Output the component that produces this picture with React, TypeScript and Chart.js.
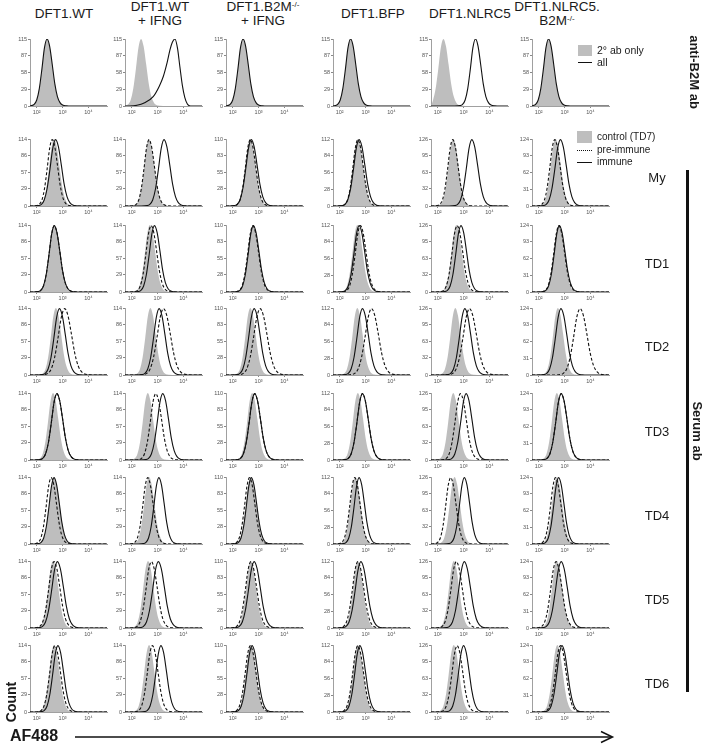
import React, { useEffect, useRef } from "react";
import { Chart, registerables } from "chart.js";

Chart.register(...registerables);

// ---------------- DATA ----------------
const SERUM_ROWS = ["My", "TD1", "TD2", "TD3", "TD4", "TD5", "TD6"];

const X_MIN = 55;
const X_MAX = 52000;
const X_TICKS = [100, 1000, 10000];
const X_TICK_LABELS = ["10²", "10³", "10⁴"];

const Y_TICKS_B2M = [0, 29, 58, 87, 115];
const Y_TICKS_SERUM = [
  [0, 29, 57, 86, 114],
  [0, 29, 57, 86, 114],
  [0, 28, 55, 83, 110],
  [0, 28, 56, 84, 112],
  [0, 32, 63, 95, 126],
  [0, 31, 62, 93, 124],
];

// histogram template: log10 offset from mode, fraction of mode height
const SHAPE_OFFSET = [-0.8, -0.6, -0.5, -0.4, -0.3, -0.2, -0.1, 0, 0.1, 0.2, 0.3, 0.4, 0.5, 0.6, 0.75, 0.95];
const SHAPE_HEIGHT = [0, 0.006, 0.025, 0.09, 0.26, 0.55, 0.87, 1, 0.89, 0.62, 0.33, 0.14, 0.05, 0.015, 0.003, 0];

// broad "all" histogram of DFT1.WT + IFNG (log10 value, fraction of max)
const BROAD_LOG = [1.9, 2.2, 2.5, 2.83, 3.07, 3.22, 3.37, 3.48, 3.57, 3.67, 3.77, 3.86, 3.96, 4.05, 4.15, 4.27];
const BROAD_HEIGHT = [0, 0.01, 0.05, 0.14, 0.3, 0.44, 0.65, 0.84, 0.95, 1, 0.86, 0.59, 0.3, 0.13, 0.03, 0];

// anti-B2M row: modes (log10 AF488)
const B2M_CONTROL_PEAK = [2.4, 2.36, 2.4, 2.42, 2.22, 2.38];
const B2M_ALL_PEAK = [2.4, 3.68, 2.4, 2.42, 3.46, 2.38];
const B2M_ALL_BROAD = [false, true, false, false, false, false];

// serum rows: modes (log10 AF488) [row][column]
const CONTROL_PEAK = [
  [2.67, 2.67, 2.68, 2.7, 2.6, 2.65],
  [2.68, 2.7, 2.78, 2.68, 2.72, 2.78],
  [2.74, 2.72, 2.68, 2.68, 2.68, 2.74],
  [2.63, 2.62, 2.75, 2.7, 2.6, 2.7],
  [2.67, 2.67, 2.7, 2.6, 2.65, 2.7],
  [2.63, 2.63, 2.7, 2.7, 2.62, 2.7],
  [2.67, 2.67, 2.7, 2.7, 2.62, 2.72],
];
const PRE_PEAK = [
  [2.6, 2.67, 2.68, 2.7, 2.58, 2.62],
  [2.68, 2.75, 2.78, 2.8, 2.75, 2.78],
  [3.08, 3.23, 3.06, 3.23, 3.23, 3.6],
  [2.78, 2.93, 2.85, 2.88, 2.88, 2.87],
  [2.56, 2.62, 2.65, 2.58, 2.5, 2.65],
  [2.67, 2.76, 2.7, 2.7, 2.72, 2.67],
  [2.7, 2.8, 2.68, 2.7, 2.75, 2.84],
];
const IMMUNE_PEAK = [
  [2.73, 3.25, 2.72, 2.75, 3.32, 2.84],
  [2.68, 2.88, 2.8, 2.75, 2.9, 2.8],
  [2.88, 3.06, 2.83, 2.88, 3.05, 2.86],
  [2.78, 3.2, 2.85, 2.88, 3.1, 2.87],
  [2.67, 3.05, 2.72, 2.75, 3.03, 2.77],
  [2.8, 3.03, 2.83, 2.82, 3.03, 2.87],
  [2.82, 3.13, 2.75, 2.78, 3.0, 2.9],
];
const CONTROL_SPREAD = 1.0;
const PRE_SPREAD = [1.0, 1.05, 1.3, 1.1, 1.0, 1.1, 1.05];
const IMMUNE_SPREAD = [1.1, 1.05, 1.1, 1.1, 1.0, 1.15, 1.05];

// ---------------- LAYOUT ----------------
const FONT = '"Liberation Sans", Arial, sans-serif';
const COL_X = [30, 125, 226, 333, 431, 532];
const ROW_TOP_B2M = 39;
const ROW_TOP = [139, 225, 308, 393, 477, 561, 645];
const PLOT_W = 77;
const PLOT_H = 67;
const Y_AXIS_W = 22;
const X_AXIS_H = 14;
const PAD_T = 5;
const PAD_R = 4;
const GREY = "rgb(190,190,190)";

function curve(peak: number, spread: number, maxY: number) {
  const pts = SHAPE_OFFSET.map((o, i) => ({ x: Math.pow(10, peak + o * spread), y: SHAPE_HEIGHT[i] * maxY }));
  return withBaseline(pts);
}
function broadCurve(maxY: number) {
  return withBaseline(BROAD_LOG.map((l, i) => ({ x: Math.pow(10, l), y: BROAD_HEIGHT[i] * maxY })));
}
function withBaseline(pts: { x: number; y: number }[]) {
  const inside = pts.filter((p) => p.x > X_MIN && p.x < X_MAX);
  return [{ x: X_MIN, y: 0 }, ...inside, { x: X_MAX, y: 0 }];
}

function greySet(data: any) {
  return {
    data,
    fill: "origin",
    backgroundColor: GREY,
    borderColor: "rgba(0,0,0,0)",
    borderWidth: 0,
    pointRadius: 0,
    cubicInterpolationMode: "monotone",
    order: 3,
  };
}
function lineSet(data: any, dashed: boolean) {
  return {
    data,
    fill: false,
    borderColor: "#111",
    borderWidth: 1.1,
    borderDash: dashed ? [3, 2] : [],
    pointRadius: 0,
    cubicInterpolationMode: "monotone",
    order: dashed ? 2 : 1,
  };
}

function Panel({ left, top, yTicks, datasets }: any) {
  const ref = useRef<HTMLCanvasElement>(null);
  useEffect(() => {
    const chart = new Chart(ref.current as HTMLCanvasElement, {
      type: "line",
      data: { datasets },
      options: {
        responsive: false,
        animation: false,
        devicePixelRatio: 1,
        layout: { padding: { top: PAD_T, right: PAD_R, left: 0, bottom: 0 } },
        plugins: { legend: { display: false }, tooltip: { enabled: false } },
        scales: {
          x: {
            type: "logarithmic",
            min: X_MIN,
            max: X_MAX,
            afterBuildTicks: (s: any) => {
              s.ticks = X_TICKS.map((v) => ({ value: v }));
            },
            afterFit: (s: any) => {
              s.height = X_AXIS_H;
            },
            ticks: {
              autoSkip: false,
              maxRotation: 0,
              padding: 1,
              color: "#555",
              font: { size: 5.5, family: FONT },
              callback: (v: any) => {
                const i = X_TICKS.indexOf(Number(v));
                return i >= 0 ? X_TICK_LABELS[i] : "";
              },
            },
            grid: { display: true, drawOnChartArea: false, tickLength: 2, color: "#888" },
            border: { color: "#888", width: 0.8 },
          },
          y: {
            min: 0,
            max: yTicks[yTicks.length - 1],
            afterBuildTicks: (s: any) => {
              s.ticks = yTicks.map((v: number) => ({ value: v }));
            },
            afterFit: (s: any) => {
              s.width = Y_AXIS_W;
            },
            ticks: {
              autoSkip: false,
              padding: 1,
              color: "#555",
              font: { size: 5.5, family: FONT },
              callback: (v: any) => String(v),
            },
            grid: { display: true, drawOnChartArea: false, tickLength: 2, color: "#888" },
            border: { color: "#888", width: 0.8 },
          },
        },
      } as any,
    });
    return () => chart.destroy();
  }, []);
  return (
    <canvas
      ref={ref}
      width={Y_AXIS_W + PLOT_W + PAD_R}
      height={PAD_T + PLOT_H + X_AXIS_H}
      style={{ position: "absolute", left: left - Y_AXIS_W, top: top - PAD_T }}
    />
  );
}

const txt = (extra: any): any => ({ position: "absolute", fontFamily: FONT, color: "#1a1a1a", whiteSpace: "nowrap", ...extra });

function Title({ x, y, children }: any) {
  return (
    <div style={txt({ left: x - 60, width: 120, top: y, textAlign: "center", fontSize: 13.5, lineHeight: "14px" })}>{children}</div>
  );
}

export default function App() {
  const panels: any[] = [];
  for (let c = 0; c < 6; c++) {
    const maxY = Y_TICKS_B2M[4];
    const ds = [
      greySet(curve(B2M_CONTROL_PEAK[c], CONTROL_SPREAD, maxY)),
      lineSet(B2M_ALL_BROAD[c] ? broadCurve(maxY) : curve(B2M_ALL_PEAK[c], CONTROL_SPREAD, maxY), false),
    ];
    panels.push(<Panel key={"b" + c} left={COL_X[c]} top={ROW_TOP_B2M} yTicks={Y_TICKS_B2M} datasets={ds} />);
  }
  for (let r = 0; r < SERUM_ROWS.length; r++) {
    for (let c = 0; c < 6; c++) {
      const yt = Y_TICKS_SERUM[c];
      const maxY = yt[4];
      const ds = [
        greySet(curve(CONTROL_PEAK[r][c], CONTROL_SPREAD, maxY)),
        lineSet(curve(PRE_PEAK[r][c], PRE_SPREAD[r], maxY * 0.99), true),
        lineSet(curve(IMMUNE_PEAK[r][c], IMMUNE_SPREAD[r], maxY * 0.99), false),
      ];
      panels.push(<Panel key={r + "-" + c} left={COL_X[c]} top={ROW_TOP[r]} yTicks={yt} datasets={ds} />);
    }
  }

  const sup = { fontSize: 8, verticalAlign: "top", position: "relative", top: -2 } as any;

  return (
    <div style={{ position: "absolute", left: 0, top: 0, width: 709, height: 744, background: "#fff", overflow: "hidden" }}>
      {/* column titles */}
      <Title x={64} y={7}>DFT1.WT</Title>
      <Title x={160} y={0}>
        DFT1.WT
        <br />+ IFNG
      </Title>
      <Title x={263} y={0}>
        DFT1.B2M<span style={sup}>-/-</span>
        <br />+ IFNG
      </Title>
      <Title x={373} y={7}>DFT1.BFP</Title>
      <Title x={470} y={7}>DFT1.NLRC5</Title>
      <Title x={557} y={0}>
        DFT1.NLRC5.
        <br />
        B2M<span style={sup}>-/-</span>
      </Title>

      {panels}

      {/* legend anti-B2M */}
      <div style={{ position: "absolute", left: 578, top: 45, width: 14, height: 11, background: GREY }} />
      <div style={txt({ left: 597, top: 44, fontSize: 10.5, lineHeight: "12px" })}>2° ab only</div>
      <div style={{ position: "absolute", left: 578, top: 62, width: 14, height: 0, borderTop: "1px solid #111" }} />
      <div style={txt({ left: 597, top: 56, fontSize: 10.5, lineHeight: "12px" })}>all</div>

      {/* legend serum */}
      <div style={{ position: "absolute", left: 577, top: 131, width: 15, height: 12, background: GREY }} />
      <div style={txt({ left: 597, top: 131, fontSize: 10, lineHeight: "12px" })}>control (TD7)</div>
      <div style={{ position: "absolute", left: 577, top: 150, width: 15, height: 0, borderTop: "1px dotted #111" }} />
      <div style={txt({ left: 597, top: 144, fontSize: 10, lineHeight: "12px" })}>pre-immune</div>
      <div style={{ position: "absolute", left: 577, top: 162, width: 15, height: 0, borderTop: "1px solid #111" }} />
      <div style={txt({ left: 597, top: 156, fontSize: 10, lineHeight: "12px" })}>immune</div>

      {/* row labels */}
      {SERUM_ROWS.map((lab, r) => (
        <div key={lab} style={txt({ left: 627, width: 60, top: ROW_TOP[r] + 31, textAlign: "center", fontSize: 13, lineHeight: "16px" })}>
          {lab}
        </div>
      ))}
      <div style={{ position: "absolute", left: 686, top: 170, width: 2.5, height: 522, background: "#111" }} />

      {/* rotated side labels */}
      <div
        style={txt({ left: 694, top: 72, fontSize: 13, fontWeight: "bold", lineHeight: "14px", transform: "translate(-50%,-50%) rotate(90deg)" })}
      >
        anti-B2M ab
      </div>
      <div
        style={txt({ left: 697, top: 431, fontSize: 13, fontWeight: "bold", lineHeight: "14px", transform: "translate(-50%,-50%) rotate(90deg)" })}
      >
        Serum ab
      </div>
      <div
        style={txt({ left: 11, top: 702, fontSize: 14, fontWeight: "bold", lineHeight: "16px", transform: "translate(-50%,-50%) rotate(-90deg)" })}
      >
        Count
      </div>
      <div style={txt({ left: 10, top: 727, fontSize: 16, fontWeight: "bold", lineHeight: "18px" })}>AF488</div>

      <svg style={{ position: "absolute", left: 0, top: 0 }} width={709} height={744}>
        <line x1={75} y1={737} x2={612} y2={737} stroke="#111" strokeWidth={1.5} />
        <polyline points="601,731.5 612.5,737 601,742.5" fill="none" stroke="#111" strokeWidth={1.5} />
      </svg>
    </div>
  );
}
